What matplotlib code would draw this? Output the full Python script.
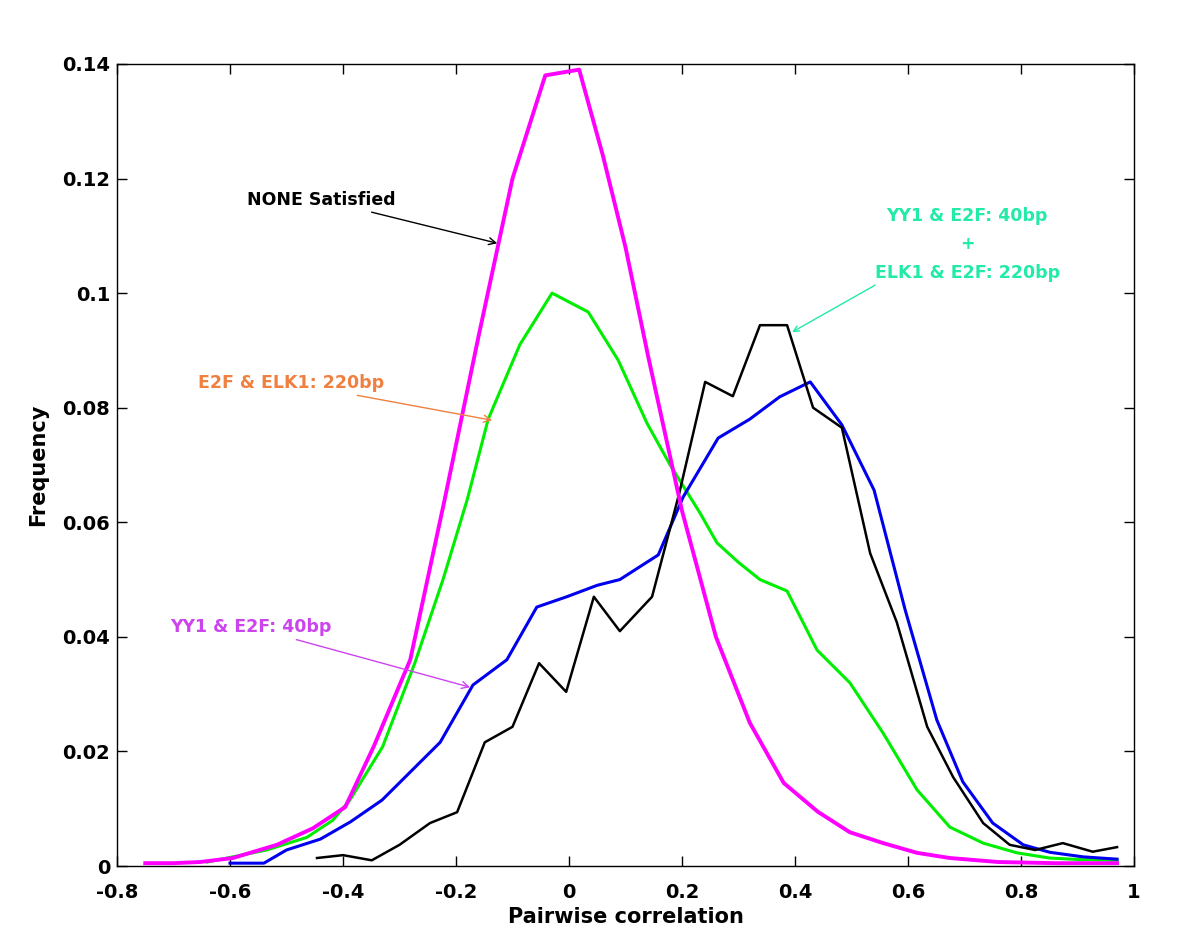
import matplotlib.pyplot as plt

# none satisfied (magenta)
x_none = [-0.75, -0.70, -0.653, -0.595, -0.517, -0.453, -0.396, -0.345, -0.281, -0.22,
          -0.16, -0.10, -0.042, 0.018, 0.06, 0.10, 0.14, 0.20, 0.26, 0.32, 0.38, 0.44,
          0.497, 0.556, 0.616, 0.674, 0.76, 0.86, 0.97]
y_none = [0.0005, 0.0005, 0.0007, 0.0014, 0.0037, 0.0066, 0.0103, 0.021, 0.036, 0.064,
          0.0925, 0.120, 0.138, 0.139, 0.124, 0.108, 0.089, 0.062, 0.040, 0.025, 0.0145, 0.0095,
          0.0059, 0.004, 0.0023, 0.0014, 0.0007, 0.0005, 0.0005]

# E2F & ELK1: 220bp (green)
x_elk = [-0.64, -0.595, -0.535, -0.464, -0.418, -0.388, -0.33, -0.273, -0.223, -0.18,
         -0.143, -0.087, -0.03, 0.034, 0.087, 0.138, 0.179, 0.232, 0.262, 0.30, 0.338,
         0.386, 0.439, 0.497, 0.556, 0.616, 0.674, 0.733, 0.793, 0.85, 0.91, 0.97]
y_elk = [0.0007, 0.0016, 0.0028, 0.005, 0.008, 0.0115, 0.0208, 0.0354, 0.050, 0.064,
         0.078, 0.091, 0.100, 0.0967, 0.0883, 0.0773, 0.070, 0.0616, 0.0564, 0.053, 0.050,
         0.048, 0.0377, 0.032, 0.0232, 0.0133, 0.0068, 0.004, 0.0023, 0.0014, 0.0011, 0.001]

# YY1 & E2F: 40bp (blue)
x_yy1 = [-0.60, -0.54, -0.50, -0.44, -0.387, -0.331, -0.28, -0.228, -0.17, -0.11,
         -0.057, -0.004, 0.05, 0.09, 0.158, 0.202, 0.264, 0.32, 0.373, 0.427, 0.483,
         0.54, 0.595, 0.651, 0.697, 0.75, 0.804, 0.851, 0.91, 0.97]
y_yy1 = [0.0005, 0.0005, 0.0028, 0.0047, 0.0077, 0.0115, 0.0165, 0.0216, 0.0316, 0.036,
         0.0452, 0.047, 0.049, 0.050, 0.0543, 0.0644, 0.0747, 0.078, 0.0819, 0.0845, 0.077,
         0.0656, 0.0447, 0.0255, 0.0147, 0.0075, 0.0037, 0.0024, 0.0016, 0.0012]

# YY1 + ELK1 (black)
x_both = [-0.446, -0.40, -0.349, -0.30, -0.246, -0.198, -0.149, -0.10, -0.053, -0.005,
          0.044, 0.09, 0.147, 0.195, 0.241, 0.29, 0.338, 0.386, 0.432, 0.483, 0.533,
          0.58, 0.634, 0.68, 0.733, 0.78, 0.825, 0.874, 0.927, 0.97]
y_both = [0.0014, 0.0019, 0.001, 0.0037, 0.0075, 0.0094, 0.0216, 0.0243, 0.0354, 0.0304,
          0.047, 0.041, 0.047, 0.065, 0.0845, 0.082, 0.0944, 0.0944, 0.080, 0.0765, 0.0546,
          0.0426, 0.0243, 0.0155, 0.0075, 0.0037, 0.0028, 0.004, 0.0025, 0.0033]

plt.rcParams['font.family'] = ['DejaVu Sans']
plt.rcParams['font.weight'] = 'bold'

fig = plt.figure(figsize=(12, 9.47), dpi=100)
ax = fig.add_axes([0.0975, 0.0855, 0.8475, 0.847])

ax.plot(x_elk, y_elk, color='#00ee00', lw=2.2)
ax.plot(x_yy1, y_yy1, color='#0000ee', lw=2.2)
ax.plot(x_both, y_both, color='black', lw=1.8)
ax.plot(x_none, y_none, color='#ff00ff', lw=2.8)

ax.set_xlim(-0.8, 1)
ax.set_ylim(0, 0.14)
ax.set_xticks([-0.8, -0.6, -0.4, -0.2, 0, 0.2, 0.4, 0.6, 0.8, 1])
ax.set_xticklabels(['-0.8', '-0.6', '-0.4', '-0.2', '0', '0.2', '0.4', '0.6', '0.8', '1'])
ax.set_yticks([0, 0.02, 0.04, 0.06, 0.08, 0.1, 0.12, 0.14])
ax.set_yticklabels(['0', '0.02', '0.04', '0.06', '0.08', '0.1', '0.12', '0.14'])
ax.tick_params(direction='in', length=7, width=1, top=True, right=True, labelsize=14)
ax.tick_params(axis='x', pad=12)
ax.tick_params(axis='y', pad=5)
for s in ax.spines.values():
    s.set_linewidth(1)

ax.set_xlabel('Pairwise correlation', fontsize=15, fontweight='bold', labelpad=4)
ax.set_ylabel('Frequency', fontsize=15, fontweight='bold', labelpad=10)

ax.annotate('NONE Satisfied', xy=(-0.127, 0.1087), xytext=(-0.57, 0.1163),
            fontsize=12.5, fontweight='bold', color='black', va='center', ha='left',
            arrowprops=dict(arrowstyle='->', color='black', lw=1, shrinkA=2, shrinkB=0))
ax.annotate('E2F & ELK1: 220bp', xy=(-0.136, 0.0778), xytext=(-0.657, 0.0843),
            fontsize=12.5, fontweight='bold', color='#f08040', va='center', ha='left',
            arrowprops=dict(arrowstyle='->', color='#f08040', lw=1, shrinkA=2, shrinkB=0))
ax.annotate('YY1 & E2F: 40bp', xy=(-0.175, 0.0312), xytext=(-0.706, 0.0417),
            fontsize=12.5, fontweight='bold', color='#cc44ee', va='center', ha='left',
            arrowprops=dict(arrowstyle='->', color='#cc44ee', lw=1, shrinkA=2, shrinkB=0))
ax.text(0.705, 0.1085, 'YY1 & E2F: 40bp\n+\nELK1 & E2F: 220bp', fontsize=12.5,
        fontweight='bold', color='#22eaa8', ha='center', va='center', linespacing=1.75)
ax.annotate('', xy=(0.395, 0.0932), xytext=(0.542, 0.1014),
            arrowprops=dict(arrowstyle='->', color='#22eaa8', lw=1, shrinkA=0, shrinkB=0))

fig.savefig('out.png', dpi=100)
